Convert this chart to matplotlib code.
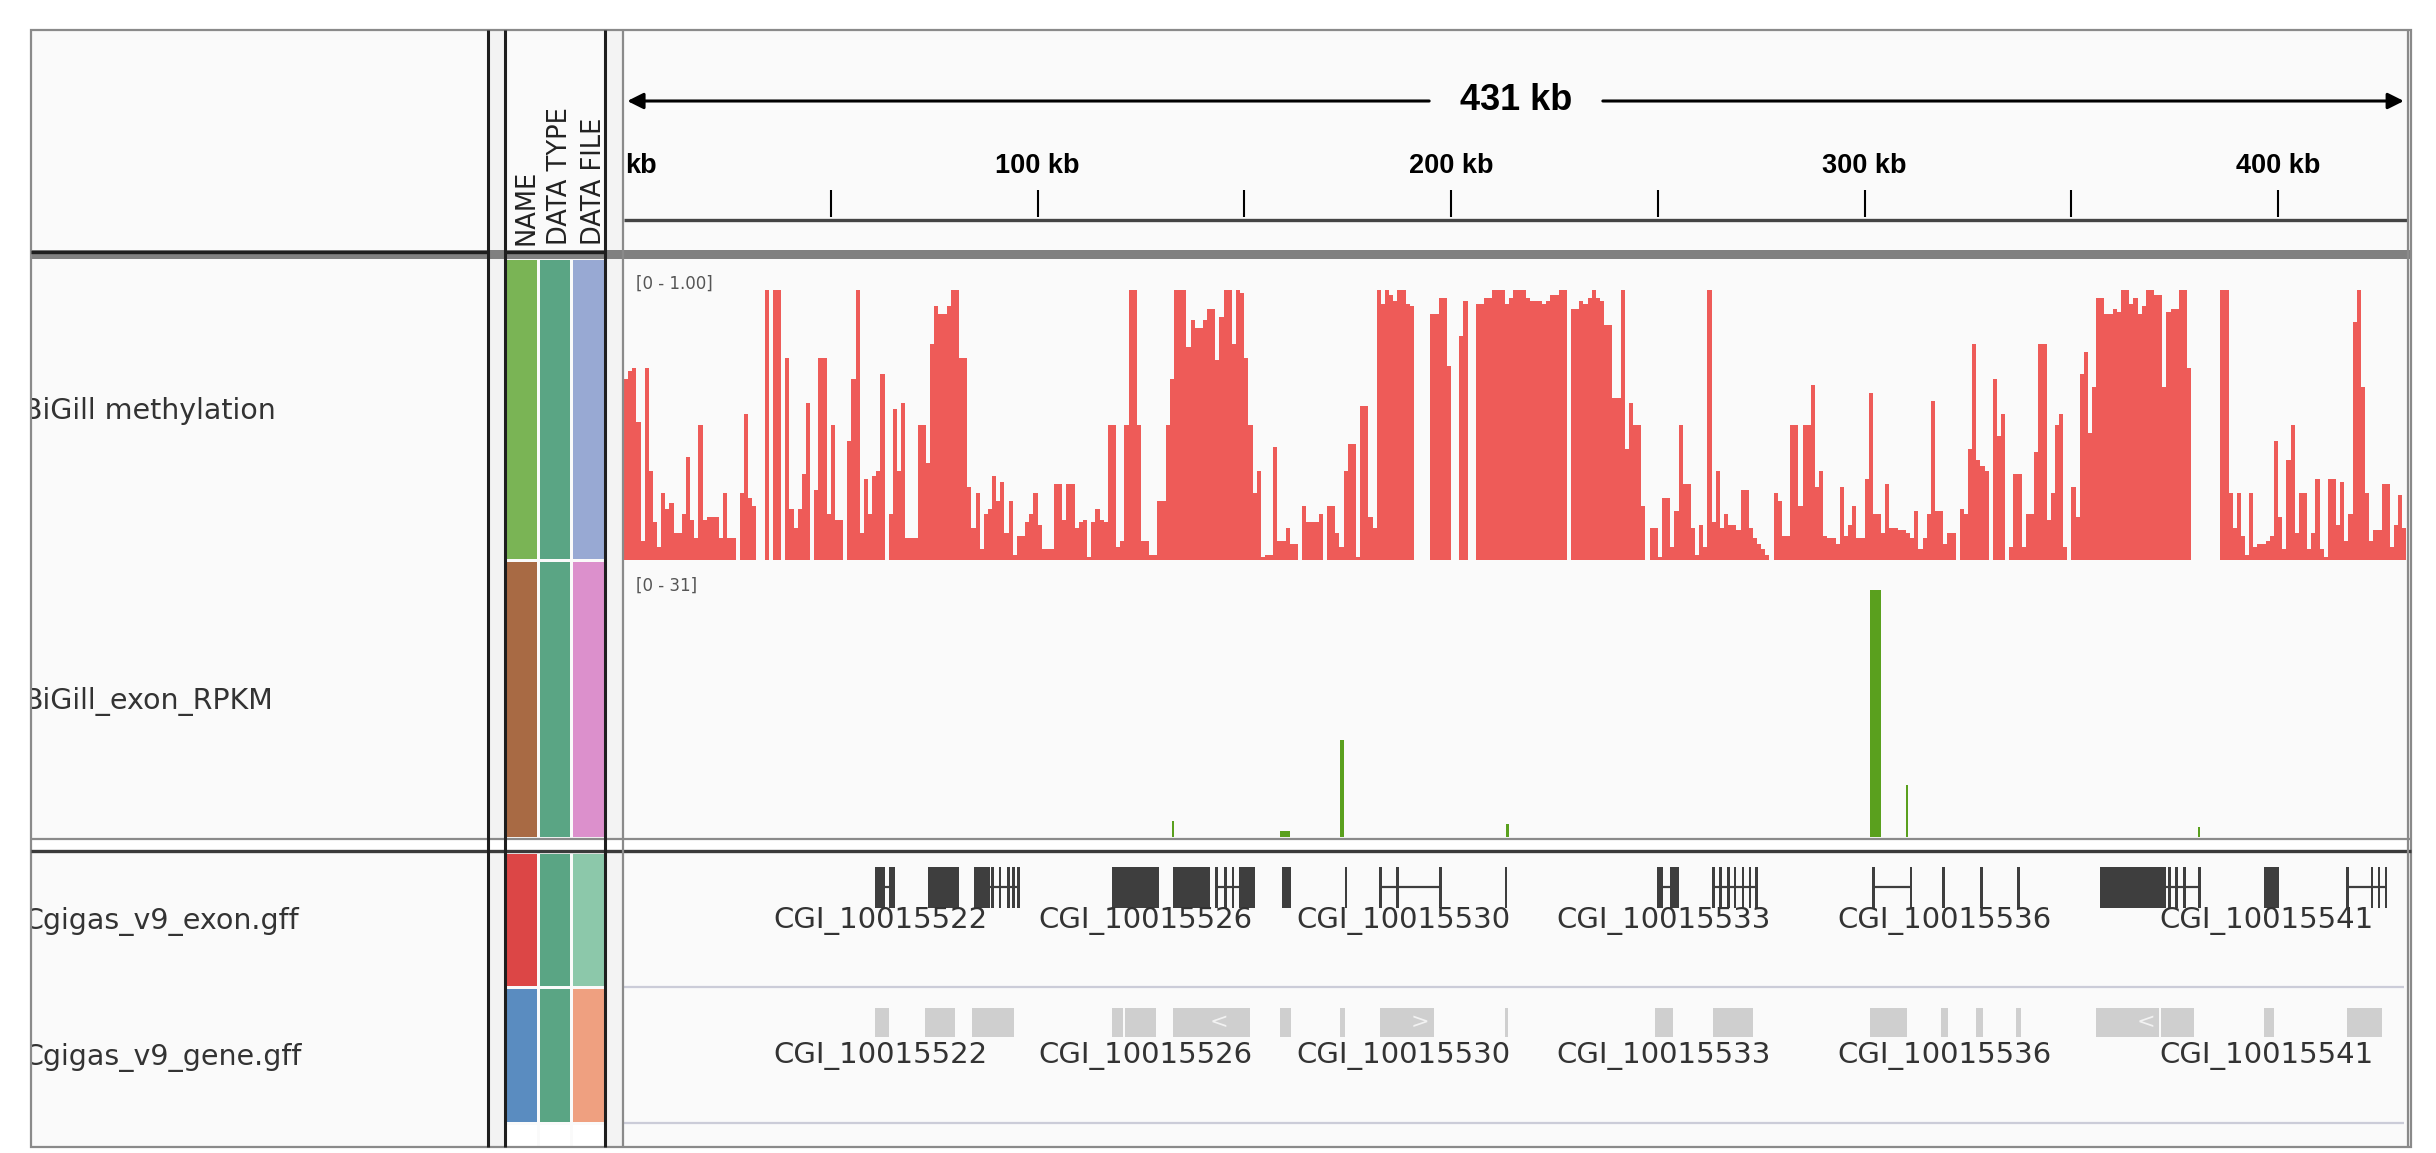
import numpy as np
import matplotlib
matplotlib.use("Agg")
import matplotlib.pyplot as plt
from matplotlib.patches import Rectangle

W, H = 2436, 1153
KB_MAX = 431.4

# methylation level, one value per 1-kb bin starting at 0 kb
meth = [
    0.67, 0.70, 0.71, 0.51, 0.07, 0.71, 0.33, 0.14, 0.05, 0.25,
    0.19, 0.21, 0.10, 0.10, 0.17, 0.38, 0.15, 0.08, 0.50, 0.15,
    0.16, 0.16, 0.16, 0.08, 0.25, 0.08, 0.08, 0.00, 0.25, 0.54,
    0.23, 0.20, 0.00, 0.00, 1.00, 0.00, 1.00, 1.00, 0.00, 0.75,
    0.19, 0.12, 0.19, 0.32, 0.58, 0.00, 0.26, 0.75, 0.75, 0.17,
    0.50, 0.15, 0.15, 0.00, 0.44, 0.67, 1.00, 0.10, 0.30, 0.17,
    0.31, 0.33, 0.69, 0.00, 0.17, 0.56, 0.33, 0.58, 0.08, 0.08,
    0.08, 0.50, 0.50, 0.36, 0.80, 0.94, 0.91, 0.91, 0.94, 1.00,
    1.00, 0.75, 0.75, 0.27, 0.12, 0.25, 0.04, 0.17, 0.19, 0.31,
    0.22, 0.29, 0.10, 0.22, 0.02, 0.09, 0.09, 0.14, 0.17, 0.25,
    0.13, 0.04, 0.04, 0.04, 0.28, 0.28, 0.15, 0.28, 0.28, 0.12,
    0.14, 0.15, 0.01, 0.14, 0.19, 0.15, 0.14, 0.50, 0.50, 0.05,
    0.07, 0.50, 1.00, 1.00, 0.50, 0.07, 0.07, 0.02, 0.02, 0.22,
    0.22, 0.50, 0.67, 1.00, 1.00, 1.00, 0.79, 0.89, 0.86, 0.86,
    0.89, 0.93, 0.93, 0.74, 0.90, 1.00, 1.00, 0.80, 1.00, 0.99,
    0.75, 0.50, 0.25, 0.33, 0.01, 0.02, 0.02, 0.42, 0.07, 0.07,
    0.12, 0.06, 0.06, 0.00, 0.20, 0.14, 0.14, 0.14, 0.17, 0.00,
    0.20, 0.20, 0.10, 0.05, 0.33, 0.43, 0.43, 0.01, 0.57, 0.57,
    0.16, 0.12, 1.00, 0.95, 1.00, 0.98, 0.96, 1.00, 1.00, 0.95,
    0.94, 0.00, 0.00, 0.00, 0.00, 0.91, 0.91, 0.97, 0.97, 0.72,
    0.00, 0.00, 0.83, 0.96, 0.00, 0.00, 0.95, 0.95, 0.97, 0.97,
    1.00, 1.00, 1.00, 0.95, 0.97, 1.00, 1.00, 1.00, 0.97, 0.96,
    0.96, 0.96, 0.95, 0.96, 0.98, 0.98, 1.00, 1.00, 0.00, 0.93,
    0.93, 0.96, 0.95, 0.97, 1.00, 0.97, 0.96, 0.87, 0.87, 0.60,
    0.60, 1.00, 0.41, 0.58, 0.50, 0.50, 0.20, 0.00, 0.12, 0.12,
    0.01, 0.23, 0.23, 0.05, 0.18, 0.50, 0.28, 0.28, 0.12, 0.02,
    0.13, 0.05, 1.00, 0.14, 0.33, 0.12, 0.17, 0.13, 0.13, 0.11,
    0.26, 0.26, 0.12, 0.08, 0.06, 0.04, 0.02, 0.00, 0.25, 0.22,
    0.09, 0.09, 0.50, 0.50, 0.20, 0.50, 0.50, 0.65, 0.27, 0.33,
    0.09, 0.08, 0.08, 0.06, 0.27, 0.09, 0.13, 0.20, 0.08, 0.08,
    0.30, 0.62, 0.17, 0.17, 0.10, 0.28, 0.12, 0.12, 0.11, 0.11,
    0.10, 0.08, 0.18, 0.04, 0.08, 0.17, 0.59, 0.18, 0.18, 0.06,
    0.10, 0.10, 0.00, 0.19, 0.17, 0.41, 0.80, 0.37, 0.35, 0.33,
    0.00, 0.67, 0.46, 0.54, 0.00, 0.05, 0.32, 0.32, 0.05, 0.17,
    0.17, 0.40, 0.80, 0.80, 0.15, 0.25, 0.50, 0.54, 0.05, 0.00,
    0.27, 0.16, 0.69, 0.77, 0.47, 0.64, 0.97, 0.97, 0.91, 0.91,
    0.93, 0.92, 1.00, 1.00, 0.95, 0.97, 0.91, 0.94, 1.00, 1.00,
    0.98, 0.98, 0.64, 0.92, 0.93, 0.93, 1.00, 1.00, 0.71, 0.00,
    0.00, 0.00, 0.00, 0.00, 0.00, 0.00, 1.00, 1.00, 0.25, 0.12,
    0.25, 0.09, 0.02, 0.25, 0.05, 0.06, 0.06, 0.07, 0.09, 0.44,
    0.16, 0.04, 0.37, 0.50, 0.10, 0.25, 0.25, 0.04, 0.10, 0.30,
    0.04, 0.01, 0.30, 0.30, 0.13, 0.29, 0.07, 0.17, 0.88, 1.00,
    0.64, 0.25, 0.07, 0.11, 0.11, 0.28, 0.28, 0.05, 0.13, 0.24, 0.12,
]

# exon RPKM features (kb)
rpkm_start = [132.5, 158.6, 173.2, 213.3, 301.3, 309.9, 380.5]
rpkm_end = [133.1, 161.1, 174.1, 213.9, 304.0, 310.6, 381.1]
rpkm_value = [2.0, 0.8, 12.2, 1.6, 31.0, 6.5, 1.25]

# exon features (kb)
exon_blocks = [
    (60.7, 63.2), (64.0, 65.6), (73.5, 81.0), (84.6, 88.5),
    (88.8, 89.4), (90.6, 91.2), (92.6, 93.3), (93.9, 94.5), (95.1, 95.8),
    (118.0, 129.4), (132.8, 141.7), (143.0, 143.6), (145.1, 145.7),
    (147.0, 147.6), (148.7, 152.6), (159.1, 161.3), (174.4, 174.9),
    (182.6, 183.3), (186.6, 187.3), (197.2, 197.8), (213.1, 213.6),
    (249.8, 251.3), (253.0, 255.0),
    (263.2, 263.8), (264.9, 265.5), (266.7, 267.4), (268.4, 269.0),
    (270.3, 270.9), (272.0, 272.6), (273.5, 274.1),
    (301.9, 302.5), (310.9, 311.5), (318.8, 319.4), (328.0, 328.6),
    (336.9, 337.5), (357.0, 372.9),
    (373.4, 374.0), (375.1, 375.7), (377.1, 377.7), (380.7, 381.3),
    (396.6, 400.2), (416.5, 417.1), (422.4, 423.0), (424.1, 424.7),
    (425.8, 426.4),
]
exon_introns = [
    (60.7, 65.6), (88.5, 95.8), (143.0, 148.7), (182.6, 197.8),
    (249.8, 255.0), (263.2, 274.1), (301.9, 311.5), (372.9, 381.3),
    (416.5, 426.4),
]

# gene features (kb) and strand arrows
gene_blocks = [
    (60.7, 64.1), (72.8, 80.0), (84.2, 94.3), (118.0, 120.7), (121.1, 128.7),
    (132.8, 151.4), (158.6, 161.3), (173.2, 174.4), (182.8, 195.9),
    (213.0, 213.7), (249.3, 253.7), (263.4, 273.0), (301.3, 310.3),
    (318.5, 320.2), (327.0, 328.7), (336.6, 337.8), (356.0, 371.2),
    (371.7, 379.7), (396.6, 399.0), (416.7, 425.2),
]
gene_arrow_kb = [143.9, 192.5, 368.0]
gene_arrow_dir = ["<", ">", "<"]

gene_names = ["CGI_10015522", "CGI_10015526", "CGI_10015530",
              "CGI_10015533", "CGI_10015536", "CGI_10015541"]
gene_label_kb = [61.9, 126.0, 188.6, 251.5, 319.2, 397.3]

track_names = ["BiGill methylation", "BiGill_exon_RPKM",
               "Cgigas_v9_exon.gff", "Cgigas_v9_gene.gff"]
range_labels = ["[0 - 1.00]", "[0 - 31]"]
attr_headers = ["NAME", "DATA TYPE", "DATA FILE"]
attr_colors = [
    ["#7AB455", "#5AA584", "#98A9D3"],
    ["#A86A44", "#5AA584", "#DC90CC"],
    ["#DC4646", "#5AA584", "#8CC8AA"],
    ["#5A8CC0", "#5AA584", "#EFA080"],
]
ruler_ticks = np.arange(50, 401, 50)
ruler_labels = [100, 200, 300, 400]

RED = "#EE5B58"
GREEN = "#5AA01E"
EXON = "#3E3E3E"
GENE = "#CFCFCF"
PANEL = "#FAFAFA"
FRAME = "#8A8A8A"
DARK = "#1E1E1E"

plt.rcParams["font.family"] = ["DejaVu Sans"]
RULER_FONT = ["Liberation Sans", "DejaVu Sans"]

fig = plt.figure(figsize=(W / 100, H / 100), dpi=100)
fig.patch.set_facecolor("white")


def px_axes(x0, y0, x1, y1, z=1):
    # axes placed by pixel box (y from top)
    ax = fig.add_axes([x0 / W, 1 - y1 / H, (x1 - x0) / W, (y1 - y0) / H], zorder=z)
    ax.set_axis_off()
    return ax


def px_coords(ax, x0, y0, x1, y1):
    ax.set_xlim(x0, x1)
    ax.set_ylim(y1, y0)


# panel rows (pixels from top)
ROWS = [(258, 560), (560, 838), (852, 987), (987, 1123)]
DX0, DX1 = 624, 2408

# ---- background ----
bg = px_axes(0, 0, W, H, z=0)
px_coords(bg, 0, 0, W, H)
bg.add_patch(Rectangle((31, 30), 2380, 1117, fc="#F3F3F3", ec="none"))
for x0, x1 in [(31, 488), (505, 605), (623, 2408)]:
    bg.add_patch(Rectangle((x0, 30), x1 - x0, 1117, fc=PANEL, ec="none"))
bg.add_patch(Rectangle((31, 840), 2380, 10, fc="white", ec="none"))

# ---- ruler ----
ru = px_axes(DX0, 30, DX1, 252, z=3)
ru.set_xlim(0, KB_MAX)
ru.set_ylim(252, 30)
ru.vlines(ruler_ticks, 190, 217, color="black", lw=1.5)
ru.hlines(220, 0, KB_MAX, color="#444444", lw=2.4)
# the "0 kb" label is cut by the panel edge, only its unit shows
ru.text(0.3, 166, "kb", ha="left", va="center", fontsize=19.5,
        fontweight="bold", family=RULER_FONT)
for v in ruler_labels:
    ru.text(v, 166, f"{v} kb", ha="center", va="center", fontsize=19.5,
            fontweight="bold", family=RULER_FONT)
mid = KB_MAX / 2
ru.text(mid, 101, f"{round(KB_MAX)} kb", ha="center", va="center", fontsize=26,
        fontweight="bold", family=RULER_FONT)
arrow = dict(arrowstyle="-|>", color="black", lw=2.2, mutation_scale=24,
             shrinkA=0, shrinkB=0)
ru.annotate("", xy=(0.8, 101), xytext=(mid - 21, 101), arrowprops=arrow)
ru.annotate("", xy=(KB_MAX - 1.0, 101), xytext=(mid + 21, 101), arrowprops=arrow)

# ---- methylation track ----
am = px_axes(DX0, 256, DX1, 560, z=3)
am.bar(np.arange(len(meth)), meth, width=1.0, align="edge", color=RED,
       linewidth=0, antialiased=False)
am.set_xlim(0, KB_MAX)
am.set_ylim(0, 304 / 270)

# ---- RPKM track ----
ar = px_axes(DX0, 562, DX1, 837, z=3)
rs = np.array(rpkm_start)
ar.bar(rs, rpkm_value, width=np.array(rpkm_end) - rs, align="edge",
       color=GREEN, linewidth=0)
ar.set_xlim(0, KB_MAX)
ar.set_ylim(0, 31 * 275 / 247)

# ---- exon track ----
ae = px_axes(DX0, 852, DX1, 987, z=3)
ae.set_xlim(0, KB_MAX)
ae.set_ylim(987, 852)
ae.hlines([887] * len(exon_introns), [s for s, e in exon_introns],
          [e for s, e in exon_introns], color=EXON, lw=1.6)
ae.broken_barh([(s, e - s) for s, e in exon_blocks], (867, 41), facecolors=EXON)
for name, kb in zip(gene_names, gene_label_kb):
    ae.text(kb, 921, name, ha="center", va="center", fontsize=21, color="#333333")

# ---- gene track ----
ag = px_axes(DX0, 987, DX1, 1123, z=3)
ag.set_xlim(0, KB_MAX)
ag.set_ylim(1123, 987)
ag.broken_barh([(s, e - s) for s, e in gene_blocks], (1008, 29), facecolors=GENE)
for kb, d in zip(gene_arrow_kb, gene_arrow_dir):
    ag.text(kb, 1022, d, ha="center", va="center", fontsize=16, color="#F2F2F2")
for name, kb in zip(gene_names, gene_label_kb):
    ag.text(kb, 1056, name, ha="center", va="center", fontsize=21, color="#333333")

# ---- track names ----
an = px_axes(31, 30, 488, 1147, z=3)
px_coords(an, 31, 30, 488, 1147)
for name, (y0, y1) in zip(track_names, ROWS):
    an.text(23, (y0 + y1) / 2 + 2, name, ha="left", va="center", fontsize=20.5,
            color="#333333", clip_on=True)

# ---- frames, separators, attributes ----
fg = px_axes(0, 0, W, H, z=6)
px_coords(fg, 0, 0, W, H)

col_x = [(507, 537), (540, 570), (573, 604)]
for colors, (y0, y1) in zip(attr_colors, ROWS):
    for c, (x0, x1) in zip(colors, col_x):
        fg.add_patch(Rectangle((x0, y0 + 2), x1 - x0, y1 - y0 - 3, fc=c, ec="none"))
for (x0, x1) in col_x:
    fg.add_patch(Rectangle((x0, 1125), x1 - x0, 21, fc="white", ec="none"))
for s, x in zip(attr_headers, [527, 560, 594]):
    fg.text(x, 245, s, rotation=90, ha="center", va="bottom", fontsize=18.5,
            color="#222222")

for txt, (y0, y1) in zip(range_labels, ROWS[:2]):
    fg.text(636, y0 + 26, txt, ha="left", va="center", fontsize=12, color="#555555")

fg.add_patch(Rectangle((31, 250), 2380, 9, fc="#808080", ec="none"))
fg.hlines([252, 252], [31, 505], [488, 605], color=DARK, lw=2.4)
fg.hlines(839, 31, 2411, color=FRAME, lw=1.6)
fg.hlines(851, 31, 2411, color="#3A3A3A", lw=2.4)
fg.hlines([987, 1123], DX0, 2404, color="#CBCCD8", lw=1.6)
fg.vlines([488, 505, 605], 30, 1147, color=DARK, lw=2.2)
fg.vlines([623, 2408], 30, 1147, color=FRAME, lw=1.6)
fg.add_patch(Rectangle((31, 30), 2380, 1117, fill=False, ec=FRAME, lw=1.6))

fig.savefig("out.png", dpi=100, facecolor="white")
